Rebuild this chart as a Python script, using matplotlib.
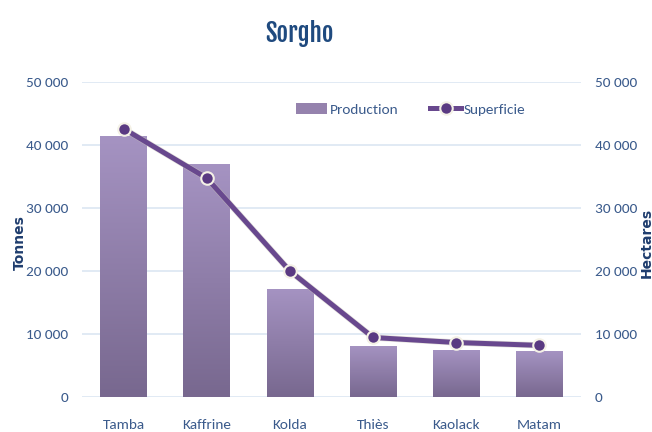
import numpy as np
import matplotlib.pyplot as plt
from matplotlib.colors import LinearSegmentedColormap

regions = ['Tamba', 'Kaffrine', 'Kolda', 'Thiès', 'Kaolack', 'Matam']
production = [41400, 36950, 17200, 8100, 7500, 7250]
superficie = [42600, 34750, 20000, 9450, 8650, 8200]
yticks = [0, 10000, 20000, 30000, 40000, 50000]
ytick_labels = ['0', '10 000', '20 000', '30 000', '40 000', '50 000']

body = ['Carlito', 'DejaVu Sans']
tick_col = '#3b5b8c'
label_col = '#1f3d6e'

fig = plt.figure(figsize=(6.52, 4.32), dpi=100)
ax = fig.add_axes([0.1258, 0.081, 0.7653, 0.729])
ax2 = ax.twinx()

x = np.arange(len(regions))
bars = ax.bar(x, production, width=0.56, color='#9582ad', zorder=2)

# vertical gradient on each bar
grad = LinearSegmentedColormap.from_list('g', ['#78688f', '#a593c2'])
for b in bars:
    x0, y0 = b.get_x(), b.get_y()
    w, h = b.get_width(), b.get_height()
    im = ax.imshow(np.linspace(0, 1, 100).reshape(-1, 1), cmap=grad, origin='lower',
                   extent=[x0, x0 + w, y0, y0 + h], aspect='auto', zorder=3)
    im.set_clip_path(b)

ax.set_xlim(-0.5, len(regions) - 0.5)
ax.set_ylim(0, 50000)
ax2.set_ylim(0, 50000)
ax.set_yticks(yticks)
ax.set_yticklabels(ytick_labels)
ax2.set_yticks(yticks)
ax2.set_yticklabels(ytick_labels)
ax.set_xticks(x)
ax.set_xticklabels(regions)

ax.grid(axis='y', color='#dce6f2', linewidth=1.2, zorder=0)
ax.set_axisbelow(True)
for a in (ax, ax2):
    for s in a.spines.values():
        s.set_visible(False)
    a.tick_params(length=0, colors=tick_col, labelsize=11)
    for t in a.get_xticklabels() + a.get_yticklabels():
        t.set_family(body)
ax.tick_params(axis='y', pad=10)
ax2.tick_params(axis='y', pad=10)
ax.tick_params(axis='x', pad=16)

# faint shadow under the line
ax2.plot(x, superficie, color='#c9c4b8', linewidth=4.5, alpha=0.5, zorder=3)
line, = ax2.plot(x, superficie, color='#68488e', linewidth=3.6, marker='o',
                 markersize=9, markerfacecolor='#5a3a82', markeredgecolor='#f4f1e6',
                 markeredgewidth=1.5, zorder=4, label='Superficie')

ax.set_ylabel('Tonnes', color=label_col, fontsize=10, fontweight='bold',
              family='DejaVu Sans')
ax.yaxis.set_label_coords(-0.11, 0.49)
ax2.set_ylabel('Hectares', color=label_col, fontsize=10, fontweight='bold',
               family='DejaVu Sans')
ax2.yaxis.set_label_coords(1.117, 0.49)

fig.text(0.46, 0.922, 'Sorgho', ha='center', va='center', fontsize=18,
         color='#1f4a7f', family=['Fjalla One', 'DejaVu Sans'])

leg = ax2.legend([bars, line], ['Production', 'Superficie'], loc='center left',
                 bbox_to_anchor=(0.429, 0.914), ncol=2, frameon=False,
                 handlelength=2.0, handletextpad=0.2, columnspacing=2.1,
                 borderpad=0, borderaxespad=0, prop={'family': body, 'size': 11})
for t in leg.get_texts():
    t.set_color(tick_col)

fig.savefig('out.png', dpi=100)
